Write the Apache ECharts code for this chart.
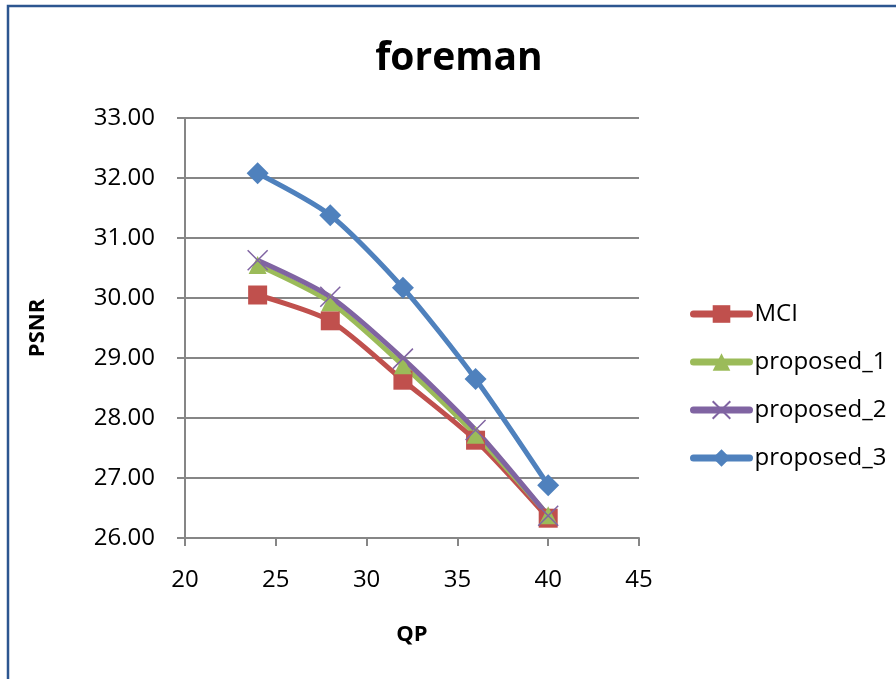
<!DOCTYPE html>
<html>
<head>
<meta charset="utf-8">
<script src="https://cdn.jsdelivr.net/npm/echarts@6/dist/echarts.min.js"></script>
<style>
html,body{margin:0;padding:0;background:#fff;}
#chart{width:896px;height:679px;}
</style>
</head>
<body>
<div id="chart"></div>
<script>
const titleText = 'foreman';
const xName = 'QP';
const yName = 'PSNR';
const qp = [24, 28, 32, 36, 40];
const seriesNames = ['MCI', 'proposed_1', 'proposed_2', 'proposed_3'];
const mci = [30.05, 29.62, 28.63, 27.63, 26.33];
const proposed1 = [30.55, 29.93, 28.88, 27.72, 26.38];
const proposed2 = [30.63, 30.02, 28.99, 27.80, 26.37];
const proposed3 = [32.08, 31.38, 30.17, 28.65, 26.88];

const font = '"Open Sans", "Noto Sans", sans-serif';
const chart = echarts.init(document.getElementById('chart'));

function pairs(vals){ return qp.map((q,i)=>[q, vals[i]]); }

const crossPath = 'path://M0,0 L10,10 M10,0 L0,10';

function mk(name, vals, color, symbol, size, extra){
  return Object.assign({
    name: name,
    type: 'line',
    data: pairs(vals),
    smooth: 0.25,
    symbol: symbol,
    symbolSize: size,
    lineStyle: {width: 5, color: color},
    itemStyle: {color: color},
    z: 3
  }, extra || {});
}

chart.setOption({
  animation: false,
  backgroundColor: '#ffffff',
  title: {
    text: titleText,
    left: 454, top: 34, textAlign: 'center',
    textStyle: {fontFamily: font, fontSize: 39, fontWeight: 'bold', color: '#000'}
  },
  graphic: [{
    type: 'polyline',
    shape: {points: [[8, 700], [8, 6], [900, 6]]},
    style: {stroke: '#2c5690', lineWidth: 2.5, fill: null},
    silent: true
  }],
  grid: {left: 185, right: 257, top: 118, bottom: 141},
  legend: {
    orient: 'vertical',
    left: 690, top: 302,
    padding: 0,
    itemGap: 24,
    itemWidth: 56, itemHeight: 22,
    lineStyle: {width: 7, cap: 'round'},
    textStyle: {fontFamily: font, fontSize: 24, color: '#000'},
    data: seriesNames
  },
  xAxis: {
    type: 'value',
    min: 20, max: 45, interval: 5,
    name: xName, nameLocation: 'middle', nameGap: 86,
    nameTextStyle: {fontFamily: font, fontSize: 22, fontWeight: 'bold', color: '#000'},
    axisLine: {show: true, onZero: false, lineStyle: {color: '#868686', width: 2}},
    axisTick: {show: true, length: 8, lineStyle: {color: '#868686', width: 2}},
    axisLabel: {fontFamily: font, fontSize: 24, color: '#000', margin: 30},
    splitLine: {show: false}
  },
  yAxis: {
    type: 'value',
    min: 26, max: 33, interval: 1,
    name: yName, nameLocation: 'middle', nameGap: 136,
    nameTextStyle: {fontFamily: font, fontSize: 22, fontWeight: 'bold', color: '#000'},
    axisLine: {show: true, lineStyle: {color: '#868686', width: 2}},
    axisTick: {show: true, length: 8, lineStyle: {color: '#868686', width: 2}},
    axisLabel: {fontFamily: font, fontSize: 24, color: '#000', margin: 30,
      formatter: v => v.toFixed(2)},
    splitLine: {show: true, lineStyle: {color: '#868686', width: 2}}
  },
  series: [
    mk(seriesNames[0], mci, '#C0504D', 'rect', 19),
    mk(seriesNames[1], proposed1, '#9BBB59', 'triangle', 18),
    mk(seriesNames[2], proposed2, '#8064A2', crossPath, 20,
       {itemStyle: {color: 'rgba(0,0,0,0)', borderColor: '#8064A2', borderWidth: 1.5}}),
    mk(seriesNames[3], proposed3, '#4F81BD', 'diamond', 22)
  ]
});
</script>
</body>
</html>
